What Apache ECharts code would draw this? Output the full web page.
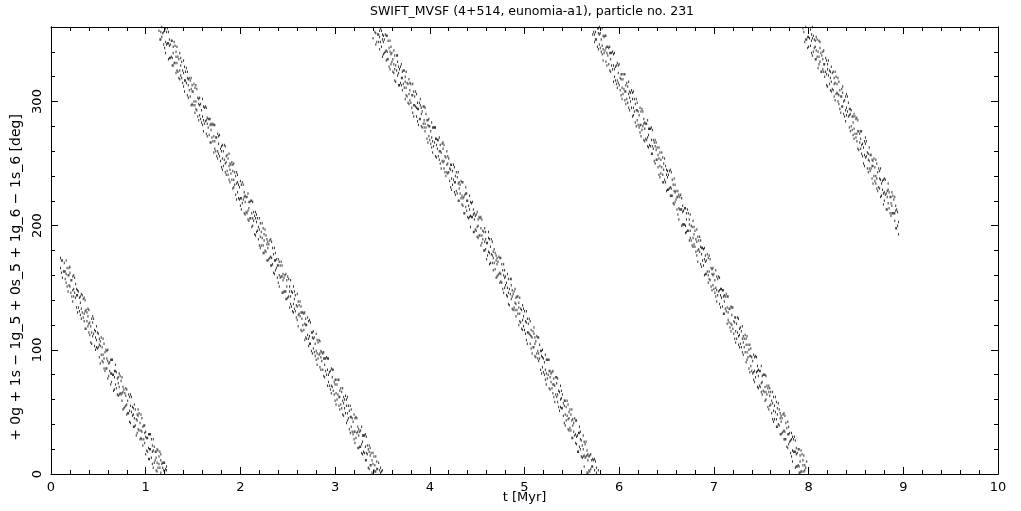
<!DOCTYPE html>
<html><head><meta charset="utf-8">
<script src="https://cdn.jsdelivr.net/npm/echarts@6/dist/echarts.min.js"></script>
<style>html,body{margin:0;padding:0;background:#fff}#c{width:1021px;height:511px}</style>
</head><body><div id="c"></div>
<script>
const titleText = 'SWIFT_MVSF (4+514, eunomia-a1), particle no. 231';
const xName = 't [Myr]';
const yName = '+ 0g + 1s \u2212 1g_5 + 0s_5 + 1g_6 \u2212 1s_6 [deg]';
const xTicks = [0, 1, 2, 3, 4, 5, 6, 7, 8, 9, 10];
const yTicks = [0, 100, 200, 300];

// rows: [t (Myr), angle1, angle2, ...]
const seg1 = [[0.10,174,166],[0.12,158,172],[0.14,170,163],[0.16,154,172,161],[0.18,160,147],[0.20,162,151,167],[0.22,143,156],[0.24,160,143,149],[0.26,142,153],[0.28,130,144,148],[0.30,142,131],[0.32,145,125,133],[0.34,141,126],[0.36,117,131,140],[0.38,130,123],[0.40,114,132,121],[0.42,119,106],[0.44,122,111,127],[0.46,103,116],[0.48,119,102,108],[0.50,102,113],[0.52,89,103,107],[0.54,102,91],[0.56,105,85,93],[0.58,100,85],[0.60,77,91,100],[0.62,90,83],[0.64,74,92,81],[0.66,80,67],[0.68,83,72,88],[0.70,64,77],[0.72,81,64,70],[0.74,64,75],[0.76,52,66,70],[0.78,65,54],[0.80,68,48,56],[0.82,64,49],[0.84,41,55,64],[0.86,54,47],[0.88,38,56,45],[0.90,44,31],[0.92,47,36,52],[0.94,28,41],[0.96,45,28,34],[0.98,28,39],[1.00,16,30,34],[1.02,29,18],[1.04,32,12,20],[1.06,28,13],[1.08,5,19,28],[1.10,18,11],[1.12,2,20,9],[1.14,8,14],[1.16,11,1,16],[1.18,5,9],[1.20,9,2],[1.22,3,6]];
const seg1b = [[0.11,162,172],[0.13,163],[0.15,157,163],[0.17,151,166],[0.19,160,152,166],[0.21,146,156],[0.23,159,139,148],[0.25,146,158],[0.27,149,134,144],[0.29,134,147],[0.31,143,128,138],[0.33,130,144],[0.35,142,123,129],[0.37,117,132],[0.39,127,119,133],[0.41,112,122],[0.43,125,105,114],[0.45,113,125],[0.47,115,100,110],[0.49,101,114],[0.51,109,94,104],[0.53,96,110],[0.55,109,90,96],[0.57,83,98],[0.59,93,85,99],[0.61,79,89],[0.63,92,72,81],[0.65,80,92],[0.67,83,68,78],[0.69,69,82],[0.71,78,63,73],[0.73,65,79],[0.75,78,59,65],[0.77,53,68],[0.79,63,55,69],[0.81,49,59],[0.83,62,42,51],[0.85,50,62],[0.87,53,38,48],[0.89,39,52],[0.91,48,33,43],[0.93,35,49],[0.95,48,29,35],[0.97,23,38],[0.99,33,25,39],[1.01,19,29],[1.03,32,12,21],[1.05,20,32],[1.07,23,8,18],[1.09,9,22],[1.11,18,3,13],[1.13,5,19],[1.15,18,5],[1.17,8],[1.19,3,9],[1.21,4]];
const seg2 = [[1.14,357],[1.16,350,356],[1.18,355],[1.20,343,357],[1.22,356,346],[1.24,334,347,356],[1.26,346,335],[1.28,349,335,329],[1.30,331,348],[1.32,336,323,340],[1.34,324,336],[1.36,339,325,318],[1.38,319,332],[1.40,333,312,323],[1.42,317,324],[1.44,305,319,324],[1.46,319,309],[1.48,297,310,319],[1.50,308,297],[1.52,311,297,291],[1.54,293,310],[1.56,298,285,302],[1.58,286,298],[1.60,302,288,281],[1.62,282,295],[1.64,295,274,285],[1.66,279,286],[1.68,267,281,286],[1.70,281,271],[1.72,259,272,281],[1.74,271,260],[1.76,274,260,254],[1.78,256,273],[1.80,260,247,264],[1.82,248,260],[1.84,264,250,243],[1.86,244,257],[1.88,258,237,248],[1.90,242,249],[1.92,230,244,249],[1.94,243,233],[1.96,221,234,243],[1.98,233,222],[2.00,236,222,216],[2.02,218,235],[2.04,223,210,227],[2.06,211,223],[2.08,226,212,205],[2.10,206,219],[2.12,220,199,210],[2.14,204,211],[2.16,192,206,211],[2.18,206,196],[2.20,184,197,206],[2.22,195,184],[2.24,198,184,178],[2.26,180,197],[2.28,185,172,189],[2.30,173,185],[2.32,189,175,168],[2.34,169,182],[2.36,182,161,172],[2.38,166,173],[2.40,154,168,173],[2.42,168,158],[2.44,146,159,168],[2.46,158,147],[2.48,161,147,141],[2.50,142,159],[2.52,147,134,151],[2.54,135,147],[2.56,151,137,130],[2.58,131,144],[2.60,145,124,135],[2.62,129,136],[2.64,116,130,135],[2.66,130,120],[2.68,108,121,130],[2.70,120,109],[2.72,123,109,103],[2.74,105,122],[2.76,110,97,114],[2.78,98,110],[2.80,113,99,92],[2.82,93,106],[2.84,107,86,97],[2.86,91,98],[2.88,79,93,98],[2.90,93,83],[2.92,71,84,93],[2.94,82,71],[2.96,85,71,65],[2.98,67,84],[3.00,72,59,76],[3.02,60,72],[3.04,76,62,55],[3.06,56,69],[3.08,69,48,59],[3.10,53,60],[3.12,41,55,60],[3.14,55,45],[3.16,33,46,55],[3.18,45,34],[3.20,48,34,28],[3.22,29,46],[3.24,34,21,38],[3.26,22,34],[3.28,38,24,17],[3.30,18,31],[3.32,32,11,22],[3.34,16,23],[3.36,4,18,23],[3.38,17,7],[3.40,8,17],[3.42,7,2],[3.44,10,4],[3.46,9],[3.48,1,5],[3.50,3]];
const seg2b = [[1.15,350],[1.17,360,352],[1.19,346,356],[1.21,359,339,348],[1.23,347,359],[1.25,350,335,345],[1.27,336,349],[1.29,344,329,339],[1.31,331,345],[1.33,344,325,331],[1.35,319,334],[1.37,329,321,335],[1.39,315,325],[1.41,328,308,317],[1.43,315,327],[1.45,318,303,313],[1.47,304,317],[1.49,313,298,308],[1.51,300,314],[1.53,313,294,300],[1.55,288,303],[1.57,297,289,303],[1.59,283,293],[1.61,296,276,285],[1.63,284,296],[1.65,287,272,282],[1.67,273,286],[1.69,282,267,277],[1.71,268,282],[1.73,281,262,268],[1.75,256,271],[1.77,266,258,272],[1.79,252,262],[1.81,265,245,254],[1.83,253,265],[1.85,256,241,251],[1.87,241,254],[1.89,250,235,245],[1.91,237,251],[1.93,250,231,237],[1.95,225,240],[1.97,235,227,241],[1.99,221,231],[2.01,233,213,222],[2.03,221,233],[2.05,224,209,219],[2.07,210,223],[2.09,219,204,214],[2.11,206,220],[2.13,219,200,206],[2.15,193,208],[2.17,203,195,209],[2.19,189,199],[2.21,202,182,191],[2.23,190,202],[2.25,193,178,188],[2.27,179,192],[2.29,187,172,182],[2.31,174,188],[2.33,187,168,174],[2.35,162,177],[2.37,172,164,178],[2.39,158,168],[2.41,171,151,160],[2.43,159,171],[2.45,161,146,156],[2.47,147,160],[2.49,156,141,151],[2.51,143,157],[2.53,156,137,143],[2.55,131,146],[2.57,141,133,147],[2.59,126,136],[2.61,139,119,128],[2.63,127,139],[2.65,130,115,125],[2.67,116,129],[2.69,125,110,120],[2.71,112,126],[2.73,124,105,111],[2.75,99,114],[2.77,109,101,115],[2.79,95,105],[2.81,108,88,97],[2.83,96,108],[2.85,99,84,94],[2.87,84,97],[2.89,93,78,88],[2.91,80,94],[2.93,93,74,80],[2.95,68,83],[2.97,78,70,84],[2.99,64,74],[3.01,76,56,65],[3.03,64,76],[3.05,67,52,62],[3.07,53,66],[3.09,62,47,57],[3.11,49,63],[3.13,62,43,49],[3.15,36,51],[3.17,46,38,52],[3.19,32,42],[3.21,45,25,34],[3.23,33,45],[3.25,36,21,31],[3.27,22,35],[3.29,31,16,26],[3.31,17,31],[3.33,30,11,17],[3.35,5,20],[3.37,15,7,21],[3.39,1,11],[3.41,14,3],[3.43,2,14],[3.45,4],[3.47,3],[3.49,2]];
const seg3 = [[3.40,351],[3.42,356],[3.44,348],[3.46,348,354],[3.48,348,359],[3.50,336,350,354],[3.52,350,339],[3.54,353,333,341],[3.56,349,334],[3.58,326,340,349],[3.60,339,332],[3.62,323,341,330],[3.64,329,316],[3.66,332,321,337],[3.68,313,326],[3.70,330,313,319],[3.72,314,325],[3.74,302,316,320],[3.76,315,304],[3.78,318,298,306],[3.80,314,299],[3.82,291,305,314],[3.84,304,297],[3.86,288,306,295],[3.88,294,281],[3.90,297,286,302],[3.92,279,292],[3.94,296,279,285],[3.96,279,290],[3.98,267,281,285],[4.00,280,269],[4.02,283,263,271],[4.04,279,264],[4.06,256,270,279],[4.08,269,262],[4.10,253,271,260],[4.12,259,246],[4.14,262,251,267],[4.16,243,256],[4.18,260,243,249],[4.20,243,254],[4.22,231,245,249],[4.24,244,233],[4.26,247,227,235],[4.28,243,228],[4.30,220,234,243],[4.32,233,226],[4.34,217,235,224],[4.36,223,210],[4.38,226,215,231],[4.40,207,220],[4.42,224,207,213],[4.44,207,218],[4.46,195,209,213],[4.48,208,197],[4.50,211,191,199],[4.52,207,192],[4.54,184,198,207],[4.56,196,189],[4.58,180,198,187],[4.60,186,173],[4.62,190,179,195],[4.64,170,183],[4.66,187,170,176],[4.68,170,181],[4.70,158,172,176],[4.72,171,160],[4.74,174,154,162],[4.76,169,154],[4.78,146,160,169],[4.80,159,152],[4.82,143,161,150],[4.84,149,136],[4.86,152,141,157],[4.88,132,145],[4.90,149,132,138],[4.92,132,143],[4.94,120,134,138],[4.96,133,122],[4.98,136,116,124],[5.00,131,116],[5.02,108,122,131],[5.04,121,114],[5.06,105,123,112],[5.08,110,97],[5.10,113,102,118],[5.12,94,107],[5.14,110,93,99],[5.16,93,104],[5.18,81,95,99],[5.20,93,82],[5.22,96,76,84],[5.24,92,77],[5.26,69,83,92],[5.28,81,74],[5.30,65,83,72],[5.32,71,58],[5.34,73,62,78],[5.36,54,67],[5.38,71,54,60],[5.40,53,64],[5.42,41,55,59],[5.44,54,43],[5.46,56,36,44],[5.48,52,37],[5.50,29,43,52],[5.52,41,34],[5.54,25,43,32],[5.56,31,18],[5.58,33,22,38],[5.60,14,27],[5.62,31,14,20],[5.64,13,24],[5.66,1,15,19],[5.68,14,3],[5.70,16,4],[5.72,12,6],[5.74,3,12],[5.76,1,5],[5.78,3]];
const seg3b = [[3.43,346,355],[3.45,354],[3.47,357,342,352],[3.49,344,357],[3.51,353,338,348],[3.53,340,354],[3.55,353,334,340],[3.57,328,343],[3.59,338,330,344],[3.61,324,334],[3.63,337,317,326],[3.65,325,337],[3.67,328,313,323],[3.69,315,328],[3.71,324,309,319],[3.73,311,325],[3.75,324,305,311],[3.77,299,314],[3.79,309,301,315],[3.81,295,305],[3.83,308,288,297],[3.85,296,308],[3.87,299,284,294],[3.89,286,299],[3.91,295,280,290],[3.93,282,296],[3.95,295,276,282],[3.97,270,285],[3.99,280,272,286],[4.01,266,276],[4.03,279,259,268],[4.05,267,279],[4.07,270,255,265],[4.09,256,269],[4.11,265,250,260],[4.13,252,266],[4.15,265,246,252],[4.17,240,255],[4.19,250,242,256],[4.21,236,246],[4.23,249,229,238],[4.25,237,249],[4.27,240,225,235],[4.29,226,239],[4.31,235,220,230],[4.33,222,236],[4.35,235,216,222],[4.37,210,225],[4.39,220,212,226],[4.41,206,216],[4.43,219,199,208],[4.45,207,219],[4.47,210,195,205],[4.49,196,209],[4.51,205,190,200],[4.53,192,206],[4.55,205,186,192],[4.57,180,195],[4.59,189,181,195],[4.61,176,186],[4.63,189,169,178],[4.65,177,189],[4.67,179,164,174],[4.69,165,178],[4.71,174,159,169],[4.73,161,175],[4.75,174,155,161],[4.77,149,164],[4.79,158,150,164],[4.81,144,154],[4.83,157,137,146],[4.85,145,157],[4.87,148,133,143],[4.89,134,147],[4.91,142,127,137],[4.93,129,143],[4.95,142,123,129],[4.97,117,132],[4.99,127,119,133],[5.01,113,123],[5.03,125,105,114],[5.05,113,125],[5.07,116,101,111],[5.09,102,115],[5.11,110,95,105],[5.13,97,111],[5.15,110,91,97],[5.17,84,99],[5.19,94,86,100],[5.21,80,90],[5.23,92,72,81],[5.25,80,92],[5.27,83,68,78],[5.29,69,82],[5.31,77,62,72],[5.33,64,78],[5.35,77,58,64],[5.37,51,66],[5.39,61,53,67],[5.41,47,57],[5.43,59,39,48],[5.45,47,59],[5.47,50,35,45],[5.49,35,48],[5.51,44,29,39],[5.53,31,45],[5.55,43,24,30],[5.57,18,33],[5.59,28,20,34],[5.61,13,23],[5.63,26,6,15],[5.65,14,26],[5.67,16,1,11],[5.69,2,15],[5.71,11,6],[5.73,11],[5.75,10]];
const seg4 = [[5.72,354],[5.74,354,348],[5.76,350],[5.78,355,342,359],[5.80,343,355],[5.82,359,345,338],[5.84,339,352],[5.86,353,332,343],[5.88,337,344],[5.90,325,339,344],[5.92,339,329],[5.94,316,329,338],[5.96,328,317],[5.98,331,317,311],[6.00,313,330],[6.02,318,305,322],[6.04,306,318],[6.06,322,308,301],[6.08,302,315],[6.10,316,295,306],[6.12,300,307],[6.14,288,302,307],[6.16,302,292],[6.18,280,293,302],[6.20,292,281],[6.22,295,281,275],[6.24,277,294],[6.26,282,269,286],[6.28,270,282],[6.30,285,271,264],[6.32,265,278],[6.34,279,258,269],[6.36,262,269],[6.38,250,264,269],[6.40,263,253],[6.42,241,254,263],[6.44,253,242],[6.46,255,241,235],[6.48,237,254],[6.50,241,228,245],[6.52,229,241],[6.54,245,231,224],[6.56,224,237],[6.58,238,217,228],[6.60,221,228],[6.62,209,223,228],[6.64,223,213],[6.66,200,213,222],[6.68,212,201],[6.70,214,200,194],[6.72,196,213],[6.74,201,188,205],[6.76,188,200],[6.78,204,190,183],[6.80,183,196],[6.82,197,176,187],[6.84,181,188],[6.86,169,183,188],[6.88,182,172],[6.90,160,173,182],[6.92,172,161],[6.94,174,160,154],[6.96,156,173],[6.98,161,148,165],[7.00,149,161],[7.02,164,150,143],[7.04,144,157],[7.06,158,137,148],[7.08,142,149],[7.10,129,143,148],[7.12,143,133],[7.14,121,134,143],[7.16,133,122],[7.18,135,121,115],[7.20,117,134],[7.22,122,109,126],[7.24,109,121],[7.26,125,111,104],[7.28,105,118],[7.30,119,98,109],[7.32,102,109],[7.34,90,104,109],[7.36,104,94],[7.38,82,95,104],[7.40,94,83],[7.42,96,82,76],[7.44,78,95],[7.46,83,70,87],[7.48,71,83],[7.50,87,73,66],[7.52,67,80],[7.54,80,59,70],[7.56,64,71],[7.58,52,66,71],[7.60,66,56],[7.62,44,57,66],[7.64,55,44],[7.66,58,44,38],[7.68,40,57],[7.70,45,32,49],[7.72,33,45],[7.74,49,35,28],[7.76,28,41],[7.78,42,21,32],[7.80,26,33],[7.82,14,28,33],[7.84,28,18],[7.86,5,18,27],[7.88,17,6],[7.90,20,6,1],[7.92,2,19],[7.94,7,11],[7.96,7,3],[7.98,10],[8.00,3]];
const seg4b = [[5.73,356],[5.75,350,356],[5.77,344,359],[5.79,354,346,360],[5.81,340,350],[5.83,353,333,342],[5.85,341,353],[5.87,344,329,339],[5.89,330,343],[5.91,339,324,334],[5.93,326,340],[5.95,339,320,326],[5.97,314,329],[5.99,323,315,329],[6.01,309,319],[6.03,322,302,311],[6.05,310,322],[6.07,313,298,308],[6.09,299,312],[6.11,308,293,303],[6.13,295,309],[6.15,308,289,295],[6.17,283,298],[6.19,293,285,299],[6.21,279,289],[6.23,292,272,281],[6.25,280,292],[6.27,283,268,278],[6.29,269,282],[6.31,278,263,273],[6.33,264,278],[6.35,277,258,264],[6.37,252,267],[6.39,261,253,267],[6.41,247,257],[6.43,259,239,248],[6.45,247,259],[6.47,250,235,245],[6.49,235,248],[6.51,244,229,239],[6.53,230,244],[6.55,243,224,230],[6.57,218,233],[6.59,227,219,233],[6.61,213,223],[6.63,225,205,214],[6.65,213,225],[6.67,216,201,211],[6.69,201,214],[6.71,210,195,205],[6.73,196,210],[6.75,209,190,196],[6.77,184,199],[6.79,193,185,199],[6.81,179,189],[6.83,191,171,180],[6.85,179,191],[6.87,182,167,177],[6.89,168,181],[6.91,176,161,171],[6.93,163,177],[6.95,176,157,163],[6.97,151,166],[6.99,160,152,166],[7.01,146,156],[7.03,159,139,148],[7.05,147,159],[7.07,149,134,144],[7.09,135,148],[7.11,144,129,139],[7.13,131,145],[7.15,143,124,130],[7.17,118,133],[7.19,128,120,134],[7.21,113,123],[7.23,126,106,115],[7.25,114,126],[7.27,117,102,112],[7.29,102,115],[7.31,111,96,106],[7.33,98,112],[7.35,111,92,98],[7.37,85,100],[7.39,95,87,101],[7.41,81,91],[7.43,94,74,83],[7.45,82,94],[7.47,84,69,79],[7.49,70,83],[7.51,79,64,74],[7.53,66,80],[7.55,79,60,66],[7.57,54,69],[7.59,63,55,69],[7.61,49,59],[7.63,62,42,51],[7.65,50,62],[7.67,53,38,48],[7.69,39,52],[7.71,47,32,42],[7.73,34,48],[7.75,47,28,34],[7.77,22,37],[7.79,32,24,38],[7.81,17,27],[7.83,30,10,19],[7.85,18,30],[7.87,21,6,16],[7.89,7,20],[7.91,15,1,10],[7.93,2,16],[7.95,15,2],[7.97,5]];
const seg5 = [[7.94,359],[7.96,348],[7.98,350],[8.00,344,352],[8.02,358,345],[8.04,337,351,360],[8.06,350,343],[8.08,334,352,341],[8.10,340,327],[8.12,343,332,348],[8.14,324,337],[8.16,341,324,330],[8.18,324,335],[8.20,312,326,330],[8.22,325,314],[8.24,328,308,316],[8.26,324,309],[8.28,301,315,324],[8.30,314,307],[8.32,298,316,305],[8.34,304,291],[8.36,307,296,312],[8.38,288,301],[8.40,306,289,295],[8.42,288,299],[8.44,276,290,294],[8.46,288,277],[8.48,290,270,278],[8.50,286,271],[8.52,262,276,285],[8.54,274,267],[8.56,258,276,265],[8.58,263,250],[8.60,266,255,271],[8.62,246,259],[8.64,263,246,252],[8.66,246,257],[8.68,234,248,252],[8.70,247,236],[8.72,250,230,238],[8.74,246,231],[8.76,223,237,246],[8.78,236,229],[8.80,220,238,227],[8.82,226,213],[8.84,229,218,234],[8.86,210,223],[8.88,227,210,216],[8.90,210,221],[8.92,198,212,216],[8.94,211,200],[8.95,193,203]];
const seg5b = [[7.95,356],[7.97,350,360],[7.99,343,352],[8.01,351],[8.03,354,339,349],[8.05,340,353],[8.07,349,334,344],[8.09,336,350],[8.11,349,330,336],[8.13,324,339],[8.15,334,326,340],[8.17,320,330],[8.19,333,313,322],[8.21,321,333],[8.23,324,309,319],[8.25,310,323],[8.27,319,304,314],[8.29,306,320],[8.31,319,300,306],[8.33,294,309],[8.35,304,296,310],[8.37,290,300],[8.39,304,284,293],[8.41,292,304],[8.43,294,279,289],[8.45,280,293],[8.47,288,273,283],[8.49,274,288],[8.51,287,268,274],[8.53,261,276],[8.55,270,262,276],[8.57,256,266],[8.59,268,248,257],[8.61,256,268],[8.63,258,243,253],[8.65,244,257],[8.67,253,238,248],[8.69,240,254],[8.71,253,234,240],[8.73,228,243],[8.75,238,230,244],[8.77,224,234],[8.79,237,217,226],[8.81,225,237],[8.83,228,213,223],[8.85,214,227],[8.87,223,208,218],[8.89,210,224],[8.91,223,204,210],[8.93,198,213]];

function toPoints(rows) {
  const out = [];
  rows.forEach(r => { for (let i = 1; i < r.length; i++) out.push([r[0], r[i]]); });
  return out;
}
const points = [seg1, seg1b, seg2, seg2b, seg3, seg3b, seg4, seg4b, seg5, seg5b]
  .reduce((acc, s) => acc.concat(toPoints(s)), []);

const FONT = 'DejaVu Sans';
const black = '#000';
const lineSt = { color: black, width: 1 };

function xAx(pos, showLabels) {
  return {
    type: 'value', position: pos, min: xTicks[0], max: xTicks[xTicks.length - 1], interval: 1,
    axisLine: { show: true, onZero: false, lineStyle: lineSt },
    axisTick: { show: true, inside: true, length: 7, lineStyle: lineSt },
    minorTick: { show: true, splitNumber: 5, length: 4, lineStyle: lineSt },
    splitLine: { show: false }, minorSplitLine: { show: false },
    axisLabel: { show: showLabels, color: black, fontFamily: FONT, fontSize: 13, margin: 7,
      formatter: v => xTicks.indexOf(v) >= 0 ? String(v) : '' },
    name: showLabels ? xName : '', nameLocation: 'middle', nameGap: 17, nameMoveOverlap: false,
    nameTextStyle: { color: black, fontFamily: FONT, fontSize: 13 }
  };
}
function yAx(pos, major, showLabels) {
  return {
    type: 'value', position: pos, min: 0, max: 360, interval: major ? 100 : 20,
    axisLine: { show: true, onZero: false, lineStyle: lineSt },
    axisTick: { show: true, inside: true, length: major ? 7 : 4, lineStyle: lineSt },
    splitLine: { show: false },
    axisLabel: { show: showLabels, rotate: 90, color: black, fontFamily: FONT, fontSize: 13, margin: 7,
      showMaxLabel: false,
      formatter: v => yTicks.indexOf(v) >= 0 ? String(v) : '' },
    name: showLabels ? yName : '', nameLocation: 'middle', nameGap: 27, nameRotate: 90,
    nameTextStyle: { color: black, fontFamily: FONT, fontSize: 14, padding: [0, 54, 0, 0] }
  };
}

const chart = echarts.init(document.getElementById('c'), null, { renderer: 'canvas' });
chart.setOption({
  animation: false,
  backgroundColor: '#fff',
  title: { text: titleText, left: 527, textAlign: 'center', top: 0,
    textStyle: { color: black, fontFamily: FONT, fontSize: 12.5, fontWeight: 'normal' } },
  grid: { left: 51, right: 23, top: 27, bottom: 37, containLabel: false, outerBoundsMode: 'none' },
  xAxis: [xAx('bottom', true), xAx('top', false)],
  yAxis: [yAx('left', false, true), yAx('left', true, false), yAx('right', false, false), yAx('right', true, false)],
  series: [{
    type: 'scatter', xAxisIndex: 0, yAxisIndex: 0, data: points,
    symbol: 'rect', symbolSize: [1, 2.5], itemStyle: { color: black }, silent: true
  }]
});
</script>
</body></html>
